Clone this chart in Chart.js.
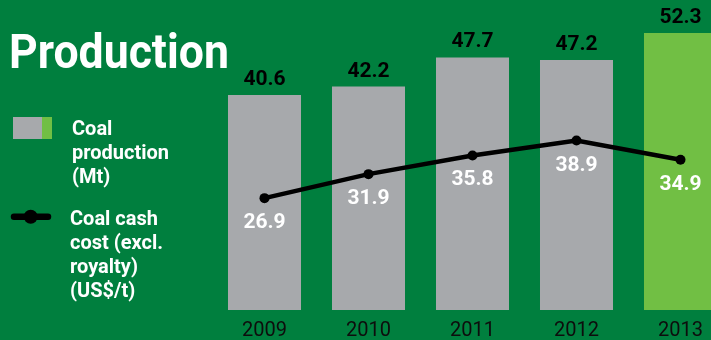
<!DOCTYPE html>
<html>
<head>
<meta charset="utf-8">
<script src="https://cdn.jsdelivr.net/npm/chart.js@4"></script>
<style>
  html, body { margin: 0; padding: 0; }
  body {
    width: 711px; height: 340px; overflow: hidden; position: relative;
    background: #007f3e;
    font-family: Roboto, "Liberation Sans", sans-serif;
  }
  #wrap { position: absolute; left: 0; top: 0; width: 740px; height: 340px; }
  .title {
    position: absolute; left: 9px; top: 27px;
    font-size: 49px; line-height: 49px; font-weight: bold; color: #fff;
    transform: scaleX(0.91); transform-origin: left top; white-space: nowrap;
  }
  .legend-text {
    position: absolute; font-size: 20px; line-height: 24px; font-weight: bold;
    color: #fff;
  }
  .swatch { position: absolute; left: 13px; top: 117px; height: 22px; }
  .swatch .g { float: left; width: 29px; height: 22px; background: #a7a9ac; }
  .swatch .l { float: left; width: 10px; height: 22px; background: #71bf44; }
</style>
</head>
<body>
<div id="wrap"><canvas id="graph01" width="740" height="340"></canvas></div>

<div class="title">Production</div>

<div class="swatch"><div class="g"></div><div class="l"></div></div>
<div class="legend-text" style="left:72px; top:116px;">Coal<br>production<br>(Mt)</div>

<svg style="position:absolute; left:0; top:200px;" width="60" height="34">
  <line x1="14" y1="16.7" x2="48" y2="16.7" stroke="#000" stroke-width="6.5" stroke-linecap="round"/>
  <circle cx="30.7" cy="16.7" r="7" fill="#000"/>
</svg>
<div class="legend-text" style="left:70px; top:206px;">Coal cash<br>cost (excl.<br>royalty)<br>(US$/t)</div>

<script>
const years = ['2009', '2010', '2011', '2012', '2013'];
const coalProduction = [40.6, 42.2, 47.7, 47.2, 52.3];
const cashCost = [26.9, 31.9, 35.8, 38.9, 34.9];

const GREY = '#a7a9ac';
const LIGHT_GREEN = '#71bf44';
const FONT = 'Roboto, "Liberation Sans", sans-serif';

// value labels: black above the bars, white under the line points
const valueLabels = {
  id: 'valueLabels',
  afterDatasetsDraw(chart) {
    const ctx = chart.ctx;
    ctx.save();
    ctx.textAlign = 'center';
    ctx.textBaseline = 'alphabetic';
    ctx.font = 'bold 21px ' + FONT;

    const bars = chart.getDatasetMeta(0).data;
    ctx.fillStyle = '#000';
    bars.forEach(function (bar, i) {
      ctx.fillText(coalProduction[i].toFixed(1), bar.x, bar.y - 10);
    });

    const points = chart.getDatasetMeta(1).data;
    ctx.fillStyle = '#fff';
    points.forEach(function (pt, i) {
      ctx.fillText(cashCost[i].toFixed(1), bars[i].x, pt.y + 30);
    });
    ctx.restore();
  }
};

const graph = document.getElementById('graph01');

new Chart(graph, {
  type: 'bar',
  data: {
    labels: years,
    datasets: [
      {
        label: 'Coal production (Mt)',
        data: coalProduction,
        backgroundColor: [GREY, GREY, GREY, GREY, LIGHT_GREEN],
        barPercentage: 0.702,
        categoryPercentage: 1,
        yAxisID: 'y',
        order: 1
      },
      {
        type: 'line',
        label: 'Coal cash cost (excl. royalty) (US$/t)',
        data: cashCost,
        borderColor: '#000',
        borderWidth: 4.5,
        pointRadius: 5,
        pointBackgroundColor: '#000',
        pointBorderWidth: 0,
        tension: 0,
        yAxisID: 'y2',
        order: 0
      }
    ]
  },
  options: {
    responsive: false,
    animation: false,
    layout: { padding: { left: 212.5, right: 7.5, top: 10, bottom: 0 } },
    plugins: {
      legend: { display: false },
      tooltip: { enabled: false }
    },
    scales: {
      x: {
        grid: { display: false },
        border: { display: false },
        ticks: {
          color: '#0d0d0d',
          padding: 1,
          font: { family: FONT, size: 20 }
        },
        afterFit: function (scale) { scale.height = 30; }
      },
      y: { display: false, min: 0, max: 56.65 },
      y2: { display: false, min: 3.6, max: 66.1 }
    }
  },
  plugins: [valueLabels]
});
</script>
</body>
</html>
